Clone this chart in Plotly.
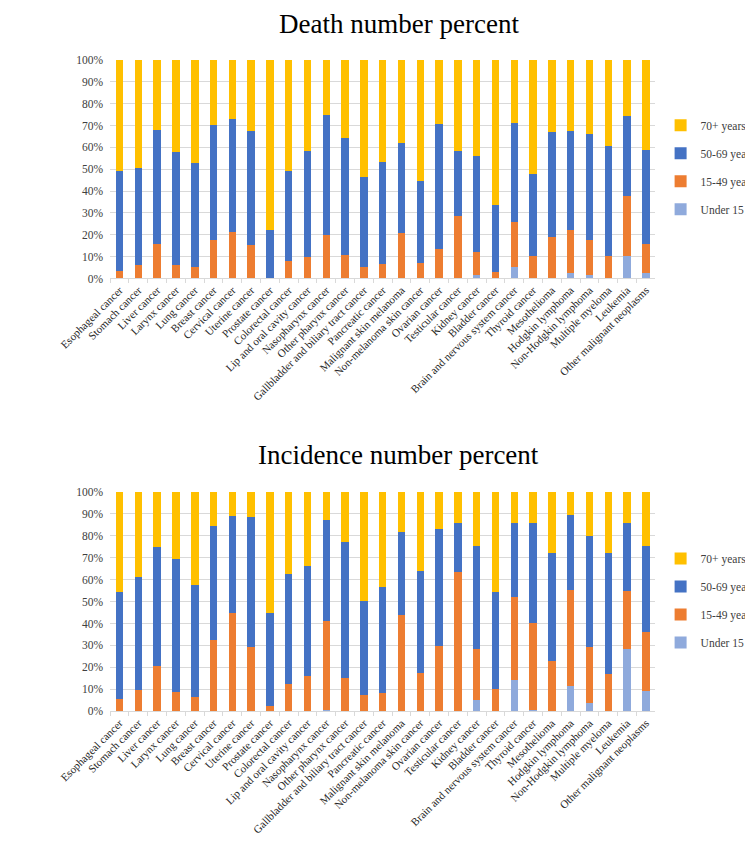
"""
Percent distribution of cancer deaths and incidence by age group.
"""
import plotly.graph_objects as go

# Categories (x axis)
cancers = [
    "Esophageal cancer", "Stomach cancer", "Liver cancer", "Larynx cancer",
    "Lung cancer", "Breast cancer", "Cervical cancer", "Uterine cancer",
    "Prostate cancer", "Colorectal cancer", "Lip and oral cavity cancer",
    "Nasopharynx cancer", "Other pharynx cancer",
    "Gallbladder and biliary tract cancer", "Pancreatic cancer",
    "Malignant skin melanoma", "Non-melanoma skin cancer", "Ovarian cancer",
    "Testicular cancer", "Kidney cancer", "Bladder cancer",
    "Brain and nervous system cancer", "Thyroid cancer", "Mesothelioma",
    "Hodgkin lymphoma", "Non-Hodgkin lymphoma", "Multiple myeloma",
    "Leukemia", "Other malignant neoplasms",
]

age_groups = ["Under 15", "15-49 years", "50-69 years", "70+ years"]

# Death number percent, one list per age group
death_under15 = [0, 0, 0, 0, 0, 0, 0, 0, 0, 0, 0, 0.3, 0, 0, 0, 0, 0, 0,
                 0, 1.7, 0, 5.3, 0, 0, 2.4, 1.7, 0, 10.4, 2.3]
death_15_49 = [3.5, 6.2, 15.6, 6.2, 5.4, 17.8, 21.2, 15.2, 0.4, 8.2, 9.8,
               19.5, 10.6, 5.3, 6.6, 21.0, 7.2, 13.6, 28.8, 10.2, 3.1, 20.6,
               10.2, 18.9, 19.7, 15.7, 10.4, 27.2, 13.5]
death_50_69 = [45.8, 44.6, 52.5, 51.8, 47.6, 52.6, 52.0, 52.1, 22.0, 41.1,
               48.5, 55.1, 53.9, 41.0, 46.8, 41.1, 37.5, 57.2, 29.6, 44.3,
               30.4, 45.4, 37.6, 48.0, 45.6, 48.6, 50.2, 36.8, 43.1]
death_70plus = [50.7, 49.2, 31.9, 42.0, 47.0, 29.6, 26.8, 32.7, 77.6, 50.7,
                41.7, 25.1, 35.5, 53.7, 46.6, 37.9, 55.3, 29.2, 41.6, 43.8,
                66.5, 28.7, 52.2, 33.1, 32.3, 34.0, 39.4, 25.6, 41.1]

# Incidence number percent, one list per age group
inc_under15 = [0, 0, 0, 0, 0, 0, 0, 0, 0, 0, 0, 0.6, 0, 0, 0, 0, 0, 0,
               0, 5.2, 0, 14.5, 0.6, 0, 11.5, 3.7, 0, 28.6, 9.1]
inc_15_49 = [5.5, 9.9, 20.8, 8.8, 6.7, 32.3, 44.6, 29.3, 2.5, 12.6, 16.0,
             40.6, 15.4, 7.5, 8.2, 43.7, 17.5, 29.8, 63.3, 23.4, 10.0, 37.7,
             39.7, 22.9, 43.9, 25.8, 16.9, 26.3, 27.0]
inc_50_69 = [49.0, 51.3, 53.8, 60.5, 50.9, 52.1, 44.3, 59.2, 42.1, 49.7,
             50.2, 46.1, 61.8, 42.8, 48.4, 37.9, 46.4, 53.0, 22.3, 46.8,
             44.5, 33.3, 45.5, 49.1, 34.1, 50.3, 55.1, 30.6, 39.0]
inc_70plus = [45.5, 38.8, 25.4, 30.7, 42.4, 15.6, 11.1, 11.5, 55.4, 37.7,
              33.8, 12.7, 22.8, 49.7, 43.4, 18.4, 36.1, 17.2, 14.4, 24.6,
              45.5, 14.5, 14.2, 28.0, 10.5, 20.2, 28.0, 14.5, 24.9]

colors = ["#8FAADC", "#ED7D31", "#4472C4", "#FFC000"]

FONT = "Liberation Serif, Times New Roman, serif"
W, H = 753, 841


def px_y(top, bottom):
    """Converte pixels (a partir do topo) em domínio de papel."""
    return [1 - bottom / H, 1 - top / H]


fig = go.Figure()

panels = [
    ("death", [death_under15, death_15_49, death_50_69, death_70plus],
     "x", "y", "legend"),
    ("inc", [inc_under15, inc_15_49, inc_50_69, inc_70plus],
     "x2", "y2", "legend2"),
]

for key, series, xa, ya, leg in panels:
    for i, (name, vals, color) in enumerate(zip(age_groups, series, colors)):
        fig.add_trace(go.Bar(
            x=cancers,
            y=vals,
            name=name,
            marker=dict(color=color, line=dict(width=0)),
            xaxis=xa,
            yaxis=ya,
            legend=leg,
            legendgroup=key + name,
            legendrank=1000 - i,  # 70+ no topo da legenda
        ))

x_common = dict(
    domain=[56.3 / W, 668 / W],
    type="category",
    tickangle=-45,
    tickfont=dict(family=FONT, size=11, color="#262626"),
    showline=True,
    linecolor="#D9D9D9",
    ticks="outside",
    tickson="boundaries",
    ticklen=4,
    tickcolor="#D9D9D9",
    showgrid=False,
)
y_common = dict(
    range=[0, 100],
    dtick=10,
    ticksuffix="%",
    tickfont=dict(family=FONT, size=11.5, color="#404040"),
    showgrid=True,
    gridcolor="#D9D9D9",
    gridwidth=1,
    zeroline=False,
    ticks="",
    ticklabelstandoff=6,
)
legend_common = dict(
    x=674 / W,
    xanchor="left",
    yanchor="middle",
    font=dict(family=FONT, size=11.5, color="#404040"),
    traceorder="grouped",
    tracegroupgap=9,
    bgcolor="rgba(0,0,0,0)",
    itemwidth=30,
)

fig.update_layout(
    width=W,
    height=H,
    margin=dict(l=0, r=0, t=0, b=0),
    paper_bgcolor="white",
    plot_bgcolor="white",
    barmode="stack",
    bargap=0.6,
    xaxis=dict(**x_common, anchor="y"),
    yaxis=dict(**y_common, domain=px_y(46.7, 268.3), anchor="x"),
    xaxis2=dict(**x_common, anchor="y2"),
    yaxis2=dict(**y_common, domain=px_y(484.5, 707.5), anchor="x2"),
    legend=dict(**legend_common, y=1 - 155.5 / H),
    legend2=dict(**legend_common, y=1 - 595 / H),
    annotations=[
        dict(text="Death number percent", x=380 / W, y=1 - 10 / H,
             xref="paper", yref="paper", showarrow=False,
             font=dict(family=FONT, size=27, color="black"),
             xanchor="center", yanchor="middle"),
        dict(text="Incidence number percent", x=380 / W, y=1 - 447 / H,
             xref="paper", yref="paper", showarrow=False,
             font=dict(family=FONT, size=27, color="black"),
             xanchor="center", yanchor="middle"),
    ],
)

fig.write_html("out.html")
